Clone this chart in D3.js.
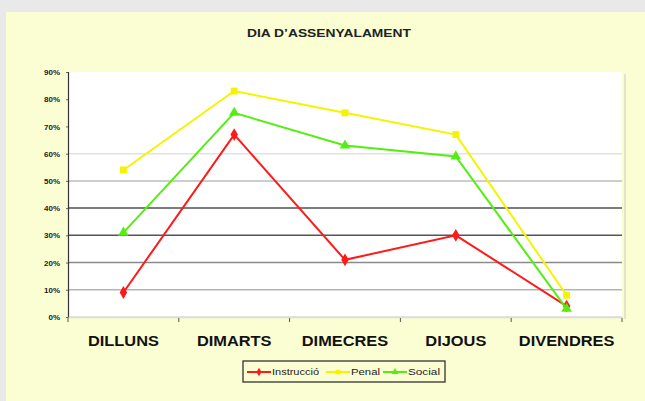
<!DOCTYPE html>
<head>
  <meta charset="utf-8">
  <script src="https://d3js.org/d3.v7.min.js"></script>
  <style>
    body { margin:0; background:#e9e9e9; }
    svg { display:block; }
    text { font-family: "Liberation Sans", Arial, sans-serif; }
  </style>
</head>
<body>
<script>
  // data
  var days = ["DILLUNS", "DIMARTS", "DIMECRES", "DIJOUS", "DIVENDRES"];
  var instruccio = [0.09, 0.67, 0.21, 0.30, 0.04];
  var penal = [0.54, 0.83, 0.75, 0.67, 0.08];
  var social = [0.31, 0.75, 0.63, 0.59, 0.03];
  var yTicks = [0, 0.1, 0.2, 0.3, 0.4, 0.5, 0.6, 0.7, 0.8, 0.9];

  var series = [
    {name: "Instrucció", values: instruccio, color: "#ff1a1a", symbol: d3.symbolDiamond},
    {name: "Penal", values: penal, color: "#f4f400", symbol: d3.symbolSquare},
    {name: "Social", values: social, color: "#55ee11", symbol: d3.symbolTriangle}
  ];

  var W = 645, H = 401;
  var svg = d3.select("body").append("svg").attr("width", W).attr("height", H);

  // pale yellow panel
  svg.append("rect").attr("x", 6).attr("y", 12).attr("width", W - 6).attr("height", H - 12)
    .attr("fill", "#fbfdd2");

  var x = d3.scaleBand().domain(days).range([68, 622]);
  var y = d3.scaleLinear().domain([0, 0.9]).range([317, 72]);

  // plot area
  svg.append("rect").attr("x", 624).attr("y", 74).attr("width", 2).attr("height", 245).attr("fill", "#e4e4cc");
  svg.append("rect").attr("x", 68).attr("y", 72).attr("width", 554).attr("height", 245).attr("fill", "#fff");

  // gridlines, each a different grey as in the picture
  var gridColor = {0: "#dddddd", 1: "#b4b4b4", 2: "#8a8a8a", 3: "#555555", 4: "#505050", 5: "#bdbdbd", 6: "#e2e2e2"};
  svg.append("g").selectAll("line").data(yTicks.filter((d, i) => gridColor[i]))
    .enter().append("line")
    .attr("x1", 68).attr("x2", 622)
    .attr("y1", d => y(d)).attr("y2", d => y(d))
    .attr("stroke", (d, i) => gridColor[i])
    .attr("stroke-width", 1.5);

  // y axis
  var yAxis = svg.append("g").attr("transform", "translate(68,0)")
    .call(d3.axisLeft(y).tickValues(yTicks).tickFormat(d3.format(".0%")).tickSize(2).tickPadding(6));
  yAxis.select(".domain").attr("stroke", "#333").attr("stroke-width", 1.2);
  yAxis.selectAll(".tick line").attr("stroke", "#666");
  yAxis.selectAll("text").attr("font-size", 8).attr("font-weight", "bold").attr("fill", "#222");

  // x axis
  var xAxis = svg.append("g").attr("transform", "translate(0,317)")
    .call(d3.axisBottom(x).tickSize(0).tickPadding(18));
  xAxis.select(".domain").attr("stroke", "#dcdcdc").attr("stroke-width", 1.5);
  xAxis.selectAll("text").attr("font-size", 14).attr("font-weight", "bold").attr("fill", "#111")
    .attr("dy", "0.82em")
    .each(function() {
      this.setAttribute("textLength", this.getComputedTextLength() * 1.17);
      this.setAttribute("lengthAdjust", "spacingAndGlyphs");
    });
  svg.append("g").selectAll("line").data(days.concat(["end"]))
    .enter().append("line")
    .attr("x1", (d, i) => 68 + i * x.step()).attr("x2", (d, i) => 68 + i * x.step())
    .attr("y1", 318).attr("y2", 322)
    .attr("stroke", "#555").attr("stroke-width", 1);

  // lines and markers
  var line = d3.line().x((d, i) => x(days[i]) + x.bandwidth() / 2).y(d => y(d));
  series.forEach(function(s) {
    svg.append("path").datum(s.values).attr("d", line)
      .attr("fill", "none").attr("stroke", s.color).attr("stroke-width", 2);
    svg.append("g").selectAll("path").data(s.values).enter().append("path")
      .attr("d", d3.symbol().type(s.symbol).size(48))
      .attr("transform", (d, i) => "translate(" + (x(days[i]) + x.bandwidth() / 2) + "," + y(d) + ")")
      .attr("fill", s.color);
  });

  // title
  svg.append("text").attr("x", 329).attr("y", 37).attr("text-anchor", "middle")
    .attr("font-size", 11).attr("font-weight", "bold").attr("fill", "#222")
    .attr("textLength", 164).attr("lengthAdjust", "spacingAndGlyphs")
    .text("DIA D\u2019ASSENYALAMENT");

  // legend
  var lg = svg.append("g").attr("transform", "translate(243,361)");
  lg.append("rect").attr("width", 202).attr("height", 21).attr("fill", "#fbfdd2")
    .attr("stroke", "#333").attr("stroke-width", 1.3);
  var legendX = [4, 83, 140];
  var legendW = [47, 29, 32];
  series.forEach(function(s, i) {
    var g = lg.append("g").attr("transform", "translate(" + legendX[i] + ",11)");
    g.append("line").attr("x1", 0).attr("x2", 24).attr("stroke", s.color).attr("stroke-width", 2);
    g.append("path").attr("d", d3.symbol().type(s.symbol).size(22)).attr("transform", "translate(12,0)").attr("fill", s.color);
    g.append("text").attr("x", 25).attr("y", 3).attr("font-size", 9).attr("fill", "#222")
      .attr("textLength", legendW[i]).attr("lengthAdjust", "spacingAndGlyphs")
      .text(s.name);
  });
</script>
</body>
